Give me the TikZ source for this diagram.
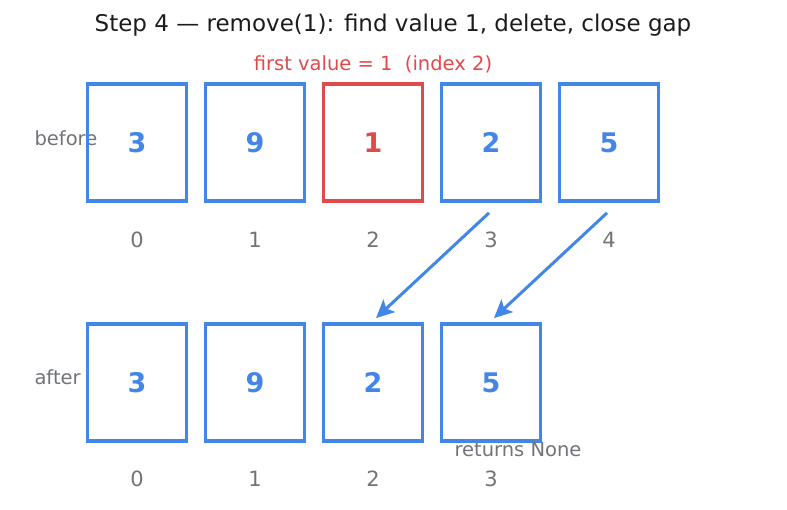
\documentclass[tikz,border=0pt]{standalone}
\usepackage{fontspec}
\setmainfont{DejaVu Sans}
\usetikzlibrary{arrows.meta}
\definecolor{cblue}{HTML}{4286E8}
\definecolor{cred}{HTML}{E04A4A}
\definecolor{cgray}{HTML}{707378}
\definecolor{ctitle}{HTML}{1C1C1C}
\begin{document}
\begin{tikzpicture}[x=1pt,y=-1pt,
  cell/.style={draw=cblue,line width=3.8pt,minimum width=99pt,minimum height=117pt,inner sep=0pt,
    text=cblue,font=\fontsize{27}{31}\selectfont\bfseries},
  redcell/.style={cell,draw=cred,text=cred},
  idx/.style={text=cgray,font=\fontsize{21}{25}\selectfont},
  side/.style={text=cgray,font=\fontsize{19.5}{23}\selectfont,anchor=west},
  mv/.style={draw=cblue,line width=3pt,-{Stealth[length=18pt,width=17pt,inset=4pt]}}]
\useasboundingbox (0,0) rectangle (787,510);
\node[text=ctitle,font=\fontsize{23}{27}\selectfont] (title) at (393,25) {Step 4 — remove(1): find value 1, delete, close gap};
\node[text=cred,font=\fontsize{19.5}{23}\selectfont] (sub) at (373,64) {first value = 1\ \ (index 2)};
\node[side] (before) at (31,138) {before};
\node[side] (after) at (31,377) {after};
% top row
\node[cell] (t0) at (137,142.5) {3};
\node[cell] (t1) at (255,142.5) {9};
\node[redcell] (t2) at (373,142.5) {1};
\node[cell] (t3) at (491,142.5) {2};
\node[cell] (t4) at (609,142.5) {5};
\foreach \i/\x in {0/137,1/255,2/373,3/491,4/609}
  \node[idx] (ti\i) at (\x,240) {\i};
% bottom row
\node[cell] (b0) at (137,382.5) {3};
\node[cell] (b1) at (255,382.5) {9};
\node[cell] (b2) at (373,382.5) {2};
\node[cell] (b3) at (491,382.5) {5};
\foreach \i/\x in {0/137,1/255,2/373,3/491}
  \node[idx] (bi\i) at (\x,479) {\i};
\node[text=cgray,font=\fontsize{19.5}{23}\selectfont] (ret) at (518,450) {returns None};
% arrows
\coordinate (s3) at ([xshift=-2pt,yshift=-10pt]t3.south);
\coordinate (s4) at ([xshift=-2pt,yshift=-10pt]t4.south);
\coordinate (e2) at ([xshift=3pt,yshift=4pt]b2.north);
\coordinate (e3) at ([xshift=3pt,yshift=4pt]b3.north);
\draw[mv] (s3) -- (e2);
\draw[mv] (s4) -- (e3);
\end{tikzpicture}
\end{document}
